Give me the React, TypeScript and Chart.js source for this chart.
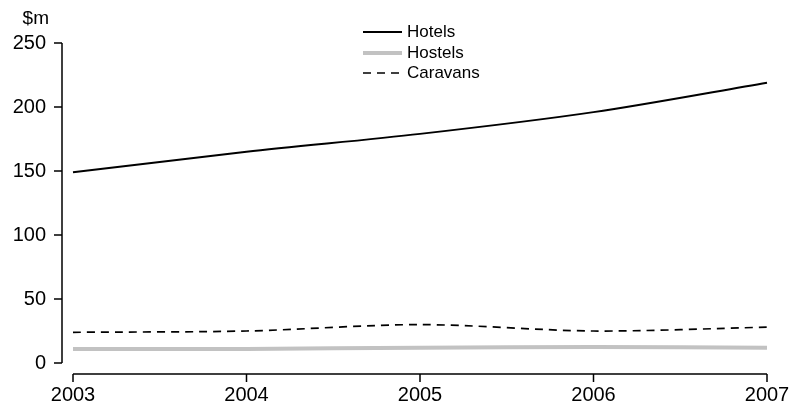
import React, { useEffect, useRef } from "react";
import { Chart, registerables } from "chart.js";

Chart.register(...registerables);

const years = ["2003", "2004", "2005", "2006", "2007"];
const hotels = [149, 165, 179, 196, 219];
const hostels = [11, 11, 12, 12.5, 12];
const caravans = [24, 25, 30, 25, 28];
const yTicks = [0, 50, 100, 150, 200, 250];
const unitLabel = "$m";

const FONT = "'Liberation Sans', Arial, sans-serif";

const axesPlugin = {
  id: "customAxes",
  afterDraw(chart: any) {
    const ctx = chart.ctx;
    const x = chart.scales.x;
    const y = chart.scales.y;
    const area = chart.chartArea;
    ctx.save();
    ctx.strokeStyle = "#000";
    ctx.lineWidth = 1.5;
    // y axis
    const yx = area.left - 11;
    ctx.beginPath();
    ctx.moveTo(yx, y.getPixelForValue(250));
    ctx.lineTo(yx, y.getPixelForValue(0));
    yTicks.forEach((t) => {
      const py = y.getPixelForValue(t);
      ctx.moveTo(yx - 8, py);
      ctx.lineTo(yx, py);
    });
    ctx.stroke();
    // x axis
    const xy = area.bottom + 11;
    ctx.beginPath();
    ctx.moveTo(x.getPixelForValue(0), xy);
    ctx.lineTo(x.getPixelForValue(years.length - 1), xy);
    years.forEach((_, i) => {
      const px = x.getPixelForValue(i);
      ctx.moveTo(px, xy);
      ctx.lineTo(px, xy + 8);
    });
    ctx.stroke();
    // unit label
    ctx.fillStyle = "#000";
    ctx.font = `19px ${FONT}`;
    ctx.textAlign = "right";
    ctx.textBaseline = "middle";
    ctx.fillText(unitLabel, 49, 19);
    // legend
    const lx0 = 363;
    const lx1 = 402;
    const rows = [32, 53, 73];
    ctx.font = `17px ${FONT}`;
    ctx.textAlign = "left";
    chart.data.datasets.forEach((ds: any, i: number) => {
      const ly = rows[i];
      ctx.beginPath();
      ctx.strokeStyle = ds.borderColor;
      ctx.lineWidth = ds.borderWidth;
      ctx.setLineDash(ds.borderDash || []);
      ctx.moveTo(lx0, ly);
      ctx.lineTo(lx1, ly);
      ctx.stroke();
      ctx.setLineDash([]);
      ctx.fillStyle = "#000";
      ctx.fillText(ds.label, lx1 + 5, ly);
    });
    ctx.restore();
  },
};

export default function App() {
  const ref = useRef<HTMLCanvasElement | null>(null);
  useEffect(() => {
    document.body.style.margin = "0";
    const canvas = ref.current;
    if (!canvas) return;
    const chart = new Chart(canvas, {
      type: "line",
      data: {
        labels: years,
        datasets: [
          {
            label: "Hotels",
            data: hotels,
            borderColor: "#000000",
            borderWidth: 2,
            pointRadius: 0,
            tension: 0.3,
            fill: false,
          },
          {
            label: "Hostels",
            data: hostels,
            borderColor: "#c2c2c2",
            borderWidth: 4,
            pointRadius: 0,
            tension: 0.3,
            fill: false,
          },
          {
            label: "Caravans",
            data: caravans,
            borderColor: "#000000",
            borderWidth: 1.7,
            borderDash: [8, 6],
            pointRadius: 0,
            tension: 0.3,
            fill: false,
          },
        ],
      },
      options: {
        animation: false,
        responsive: false,
        maintainAspectRatio: false,
        devicePixelRatio: 1,
        layout: { padding: { top: 43, right: 26, left: 0, bottom: 0 } },
        plugins: {
          legend: { display: false },
          tooltip: { enabled: false },
          title: { display: false },
        },
        scales: {
          x: {
            type: "category",
            offset: false,
            grid: { display: false, drawTicks: false },
            border: { display: false },
            ticks: {
              color: "#000",
              font: { family: FONT, size: 20 },
              padding: 20,
              maxRotation: 0,
              autoSkip: false,
            },
            afterFit: (s: any) => {
              s.height = 45;
              s.paddingLeft = 0;
              s.paddingRight = 0;
            },
          },
          y: {
            min: 0,
            max: 250,
            grid: { display: false, drawTicks: false },
            border: { display: false },
            ticks: {
              stepSize: 50,
              color: "#000",
              font: { family: FONT, size: 20 },
              padding: 27,
            },
            afterFit: (s: any) => {
              s.width = 73;
              s.paddingTop = 0;
              s.paddingBottom = 0;
            },
          },
        },
      },
      plugins: [axesPlugin],
    });
    return () => chart.destroy();
  }, []);
  return (
    <div style={{ width: 793, height: 408, position: "relative" }}>
      <canvas ref={ref} width={793} height={408} style={{ width: 793, height: 408, display: "block" }} />
    </div>
  );
}
